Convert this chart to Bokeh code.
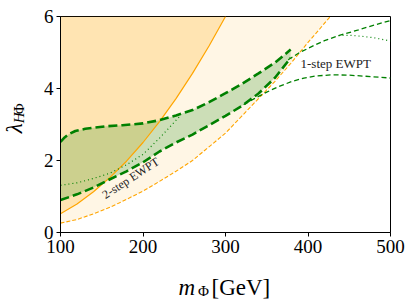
from bokeh.plotting import figure
from bokeh.models import Range1d, FixedTicker, Label
from bokeh.layouts import row, column
from bokeh.embed import file_html
from bokeh.resources import INLINE

# ---------------- data ----------------
X_MIN, X_MAX = 100, 500
Y_MIN, Y_MAX = 0, 6
x_ticks = [100, 200, 300, 400, 500]
y_ticks = [0, 2, 4, 6]

# orange solid boundary
solid_x = [100, 120, 140, 160, 180, 200, 220, 240, 260, 280, 300]
solid_y = [0.52, 0.79, 1.13, 1.53, 1.98, 2.50, 3.08, 3.72, 4.42, 5.18, 6.00]

# orange dashed boundary
odash_x = [100, 120, 140, 160, 180, 200, 220, 240, 260, 280, 300, 320, 340, 360, 380, 400, 414, 427]
odash_y = [0.26, 0.36, 0.52, 0.70, 0.92, 1.15, 1.42, 1.70, 2.00, 2.38, 2.76, 3.24, 3.72, 4.20, 4.72, 5.28, 5.65, 6.00]

# 2-step EWPT band
up_x = [100, 105, 110, 118, 130, 155, 175, 200, 220, 240, 260, 280, 300, 320, 340, 360, 379]
up_y = [2.52, 2.64, 2.73, 2.82, 2.88, 2.95, 2.98, 3.03, 3.12, 3.25, 3.40, 3.62, 3.87, 4.13, 4.42, 4.72, 5.08]
lo_x = [100, 120, 140, 160, 180, 200, 220, 240, 260, 280, 300, 320, 340, 360, 379]
lo_y = [0.90, 1.06, 1.25, 1.48, 1.70, 1.95, 2.25, 2.50, 2.72, 2.98, 3.24, 3.52, 3.86, 4.30, 4.85]

# thin dotted green (inside band, then in the 1-step region)
dotA_x = [100, 120, 140, 160, 180, 200, 220, 245]
dotA_y = [1.31, 1.38, 1.50, 1.65, 1.88, 2.17, 2.62, 3.24]
dotB_x = [437, 450, 465, 480, 500]
dotB_y = [5.47, 5.48, 5.45, 5.41, 5.32]

# 1-step EWPT thin dashed boundaries
s1up_x = [376, 390, 405, 420, 437, 460, 480, 500]
s1up_y = [4.80, 5.00, 5.17, 5.33, 5.47, 5.62, 5.76, 5.89]
s1lo_x = [322, 335, 350, 365, 380, 395, 410, 430, 450, 470, 500]
s1lo_y = [3.55, 3.72, 3.90, 4.06, 4.19, 4.29, 4.35, 4.38, 4.37, 4.34, 4.29]

SERIF = "Liberation Serif"

# ---------------- main figure ----------------
p = figure(width=368, height=262, output_backend="svg", toolbar_location=None,
           x_range=Range1d(X_MIN, X_MAX), y_range=Range1d(Y_MIN, Y_MAX),
           min_border_left=20, min_border_right=18, min_border_top=16, min_border_bottom=30)
p.background_fill_color = "white"
p.border_fill_color = "white"
p.outline_line_color = "black"
p.outline_line_width = 1
p.outline_line_alpha = 1
p.grid.visible = False

for ax in (p.xaxis[0], p.yaxis[0]):
    ax.axis_line_color = "black"
    ax.major_tick_line_color = "black"
    ax.major_tick_out = 4
    ax.major_tick_in = 0
    ax.minor_tick_line_color = None
    ax.major_label_text_font = SERIF
    ax.major_label_text_font_size = "19px"
    ax.major_label_text_color = "black"
    ax.major_label_standoff = 3
p.xaxis[0].ticker = FixedTicker(ticks=x_ticks)
p.yaxis[0].ticker = FixedTicker(ticks=y_ticks)

# fills
p.patch(odash_x + solid_x[::-1], odash_y + solid_y[::-1],
        fill_color="orange", fill_alpha=0.1, line_color=None)
p.patch(solid_x + [X_MIN], solid_y + [Y_MAX],
        fill_color="orange", fill_alpha=0.3, line_color=None)
p.patch(up_x + lo_x[::-1], up_y + lo_y[::-1],
        fill_color="green", fill_alpha=0.2, line_color=None)

# lines
p.line(solid_x, solid_y, line_color="orange", line_width=1.2)
p.line(odash_x, odash_y, line_color="orange", line_width=1.1, line_dash="4 2")
p.line(dotA_x, dotA_y, line_color="green", line_width=1.2, line_dash="1 3")
p.line(dotB_x, dotB_y, line_color="green", line_width=1.2, line_dash="1 3")
p.line(s1up_x, s1up_y, line_color="green", line_width=1.3, line_dash="5 3")
p.line(s1lo_x, s1lo_y, line_color="green", line_width=1.3, line_dash="5 3")
p.line(up_x, up_y, line_color="green", line_width=2.6, line_dash="9 4")
p.line(lo_x, lo_y, line_color="green", line_width=2.6, line_dash="9 4")

# in-plot annotations
p.add_layout(Label(x=390.9, y=4.69, text="1-step EWPT", text_font=SERIF,
                   text_font_size="13px", text_color="#222222",
                   text_align="left", text_baseline="alphabetic"))
p.add_layout(Label(x=152.0, y=1.02, text="2-step EWPT", text_font=SERIF,
                   text_font_size="12px", text_color="#222222", angle=0.576,
                   text_align="left", text_baseline="alphabetic"))


def blank(w, h, xr, yr):
    f = figure(width=w, height=h, output_backend="svg", toolbar_location=None,
               x_range=Range1d(*xr), y_range=Range1d(*yr),
               min_border=0, min_border_left=0, min_border_right=0,
               min_border_top=0, min_border_bottom=0)
    f.axis.visible = False
    f.grid.visible = False
    f.outline_line_color = None
    f.background_fill_color = "white"
    f.border_fill_color = "white"
    return f


def lab(f, **kw):
    f.add_layout(Label(text_font=SERIF, text_color="black", **kw))


# y-axis label  (λ_HΦ), coordinates in page pixels
ylab = blank(40, 262, (0, 40), (262, 0))
lab(ylab, x=14, y=135.5, text="λ", text_font_style="italic", text_font_size="23px",
    angle=1.5708, text_align="center", text_baseline="middle")
lab(ylab, x=18.5, y=123, text="H", text_font_style="italic", text_font_size="15px",
    angle=1.5708, text_align="center", text_baseline="middle")
lab(ylab, x=18.5, y=112, text="Φ", text_font_size="15px",
    angle=1.5708, text_align="center", text_baseline="middle")

# x-axis label  (m_Φ [GeV]), coordinates in page pixels
xlab = blank(408, 38, (0, 408), (300, 262))
lab(xlab, x=178, y=287, text="m", text_font_style="italic", text_font_size="23px",
    text_align="left", text_baseline="alphabetic")
lab(xlab, x=197.5, y=290, text="Φ", text_font_size="15px",
    text_align="left", text_baseline="alphabetic")
lab(xlab, x=211, y=287, text="[GeV]", text_font_size="23px",
    text_align="left", text_baseline="alphabetic")

layout = column(row(ylab, p), xlab)
open("out.html", "w").write(file_html(layout, INLINE))
